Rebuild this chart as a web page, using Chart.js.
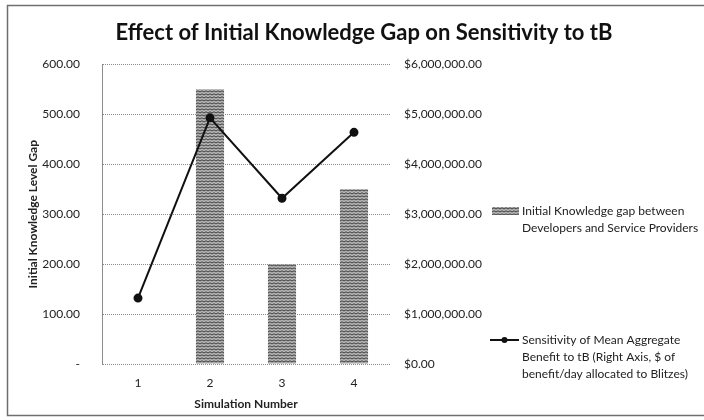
<!DOCTYPE html>
<html>
<head>
<meta charset="utf-8">
<script src="https://cdn.jsdelivr.net/npm/chart.js@4/dist/chart.umd.min.js"></script>
<style>
  html, body { margin: 0; padding: 0; background: #fff; }
  #wrap { width: 704px; height: 420px; position: relative; }
</style>
</head>
<body>
<div id="wrap"><canvas id="gapChart" width="704" height="420"></canvas></div>
<script>
// simulation runs and their results
const simulations = ["1", "2", "3", "4"];
const knowledgeGap = [0, 550, 200, 350];               // left axis
const sensitivity = [1320000, 4930000, 3320000, 4640000]; // right axis, $
const gapTicks = [0, 100, 200, 300, 400, 500, 600];

const gapLabel = ["Initial Knowledge gap between", "Developers and Service Providers"];
const sensLabel = ["Sensitivity of Mean Aggregate", "Benefit to tB (Right Axis, $ of", "benefit/day allocated to Blitzes)"];

const FONT = "Lato, 'Open Sans', sans-serif";

// wavy hatch used for the bars
function makeHatch() {
    const c = document.createElement("canvas");
    c.width = 4;
    c.height = 3;
    const g = c.getContext("2d");
    g.fillStyle = "#b4b4b4";
    g.fillRect(0, 0, 4, 3);
    g.strokeStyle = "#3c3c3c";
    g.lineWidth = 1;
    g.beginPath();
    g.moveTo(0, 2);
    g.lineTo(2, 0.8);
    g.lineTo(4, 2);
    g.stroke();
    return g.createPattern(c, "repeat");
}

function money(v) {
    return "$" + v.toLocaleString("en-US", { minimumFractionDigits: 2, maximumFractionDigits: 2 });
}

// white background and outer frame
const framePlugin = {
    id: "frame",
    beforeDraw(chart) {
        const ctx = chart.ctx;
        ctx.save();
        ctx.fillStyle = "#fff";
        ctx.fillRect(0, 0, chart.width, chart.height);
        ctx.strokeStyle = "#6f6f6f";
        ctx.lineWidth = 1.5;
        ctx.strokeRect(7.5, 5.5, 720, 410);
        ctx.restore();
    }
};

// legend entries placed beside the right axis
const sideLegend = {
    id: "sideLegend",
    afterDraw(chart) {
        const ctx = chart.ctx;
        const bar = chart.data.datasets[1];
        const line = chart.data.datasets[0];
        ctx.save();
        ctx.font = "12px " + FONT;
        ctx.textBaseline = "middle";

        ctx.fillStyle = bar.backgroundColor;
        ctx.fillRect(492, 207, 27, 8);
        ctx.fillStyle = "#222";
        gapLabel.forEach((t, i) => ctx.fillText(t, 522, 211 + i * 17));

        ctx.strokeStyle = line.borderColor;
        ctx.lineWidth = 2;
        ctx.beginPath();
        ctx.moveTo(490, 340);
        ctx.lineTo(519, 340);
        ctx.stroke();
        ctx.beginPath();
        ctx.arc(504.5, 340, 3, 0, Math.PI * 2);
        ctx.fillStyle = line.pointBackgroundColor;
        ctx.fill();
        ctx.fillStyle = "#222";
        sensLabel.forEach((t, i) => ctx.fillText(t, 522, 340 + i * 17));
        ctx.restore();
    }
};

const ctx = document.getElementById("gapChart").getContext("2d");
const chart = new Chart(ctx, {
    data: {
        labels: simulations,
        datasets: [
            {
                type: "line",
                label: sensLabel.join(" "),
                data: sensitivity,
                yAxisID: "y1",
                borderColor: "#111",
                backgroundColor: "#111",
                pointBackgroundColor: "#111",
                pointBorderColor: "#111",
                borderWidth: 2,
                pointRadius: 3.5,
                tension: 0,
                order: 0
            },
            {
                type: "bar",
                label: gapLabel.join(" "),
                data: knowledgeGap,
                yAxisID: "y",
                backgroundColor: makeHatch(),
                borderWidth: 0,
                categoryPercentage: 1,
                barPercentage: 0.39,
                order: 1
            }
        ]
    },
    options: {
        responsive: false,
        animation: false,
        layout: { padding: { left: 24, right: 0, top: 0, bottom: 0 } },
        plugins: {
            legend: { display: false },
            tooltip: { enabled: false },
            title: {
                display: true,
                text: "Effect of Initial Knowledge Gap on Sensitivity to tB",
                color: "#111",
                font: { family: FONT, size: 22, weight: "bold", lineHeight: 1.2 },
                padding: { top: 20, bottom: 18 }
            }
        },
        scales: {
            x: {
                offset: true,
                grid: { display: false, drawTicks: false },
                border: { display: false },
                ticks: { color: "#222", padding: 12, font: { family: FONT, size: 12 } },
                title: {
                    display: true,
                    text: "Simulation Number",
                    color: "#222",
                    font: { family: FONT, size: 12, weight: "bold" },
                    padding: { top: 0, bottom: 9 }
                },
                afterFit(scale) { scale.height = 56; }
            },
            y: {
                position: "left",
                min: 0,
                max: 600,
                afterBuildTicks(scale) { scale.ticks = gapTicks.map(v => ({ value: v })); },
                grid: { color: "#8c8c8c", lineWidth: 1, drawTicks: false, borderDash: [1, 1] },
                border: { display: true, color: "#8c8c8c", dash: [1, 1] },
                ticks: {
                    color: "#222",
                    padding: 22,
                    font: { family: FONT, size: 12 },
                    callback: v => v === 0 ? "-" : v.toFixed(2)
                },
                title: {
                    display: true,
                    text: "Initial Knowledge Level Gap",
                    color: "#222",
                    font: { family: FONT, size: 12, weight: "bold" },
                    padding: 2
                },
                afterFit(scale) { scale.width = 78; }
            },
            y1: {
                position: "right",
                min: 0,
                max: 6000000,
                grid: { display: false, drawTicks: false },
                border: { display: false },
                ticks: {
                    color: "#222",
                    padding: 14,
                    stepSize: 1000000,
                    font: { family: FONT, size: 12 },
                    callback: v => money(v)
                },
                afterFit(scale) { scale.width = 314; }
            }
        }
    },
    plugins: [framePlugin, sideLegend]
});
</script>
</body>
</html>
